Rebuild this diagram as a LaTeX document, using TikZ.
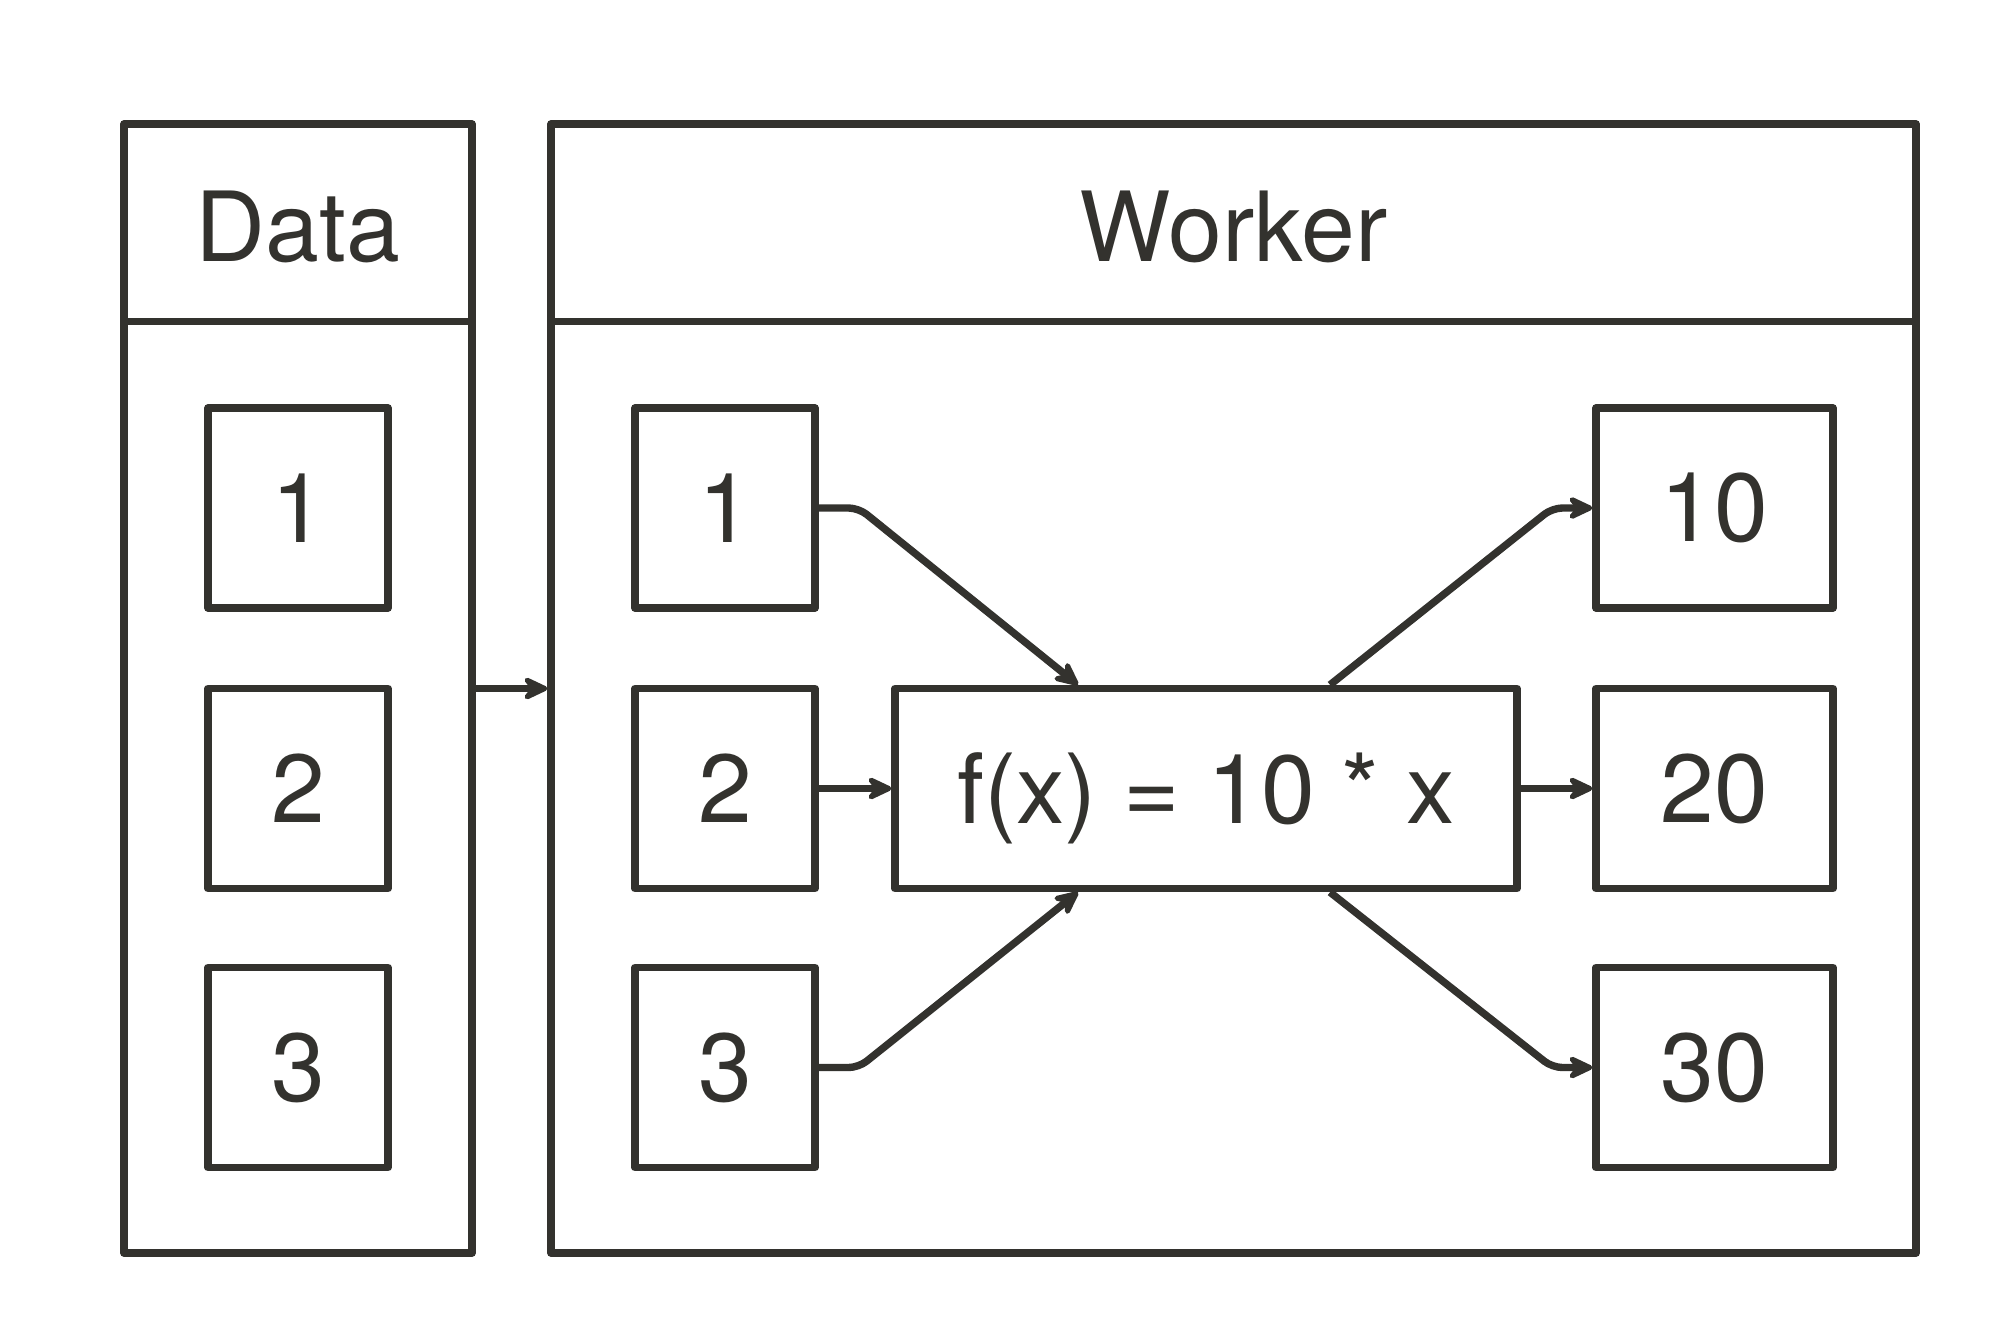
\documentclass[tikz,border=0pt]{standalone}
\usepackage{fontspec}
\setmainfont{TeX Gyre Heros}
\usepackage{xcolor}
\usetikzlibrary{arrows.meta}
\usetikzlibrary{calc}
\definecolor{ink}{HTML}{33322E}

\begin{document}
\begin{tikzpicture}[x=0.25pt, y=-0.25pt, line width=1.85pt, line join=round, color=ink,
    font=\fontsize{24.2}{29}\selectfont,
    lane/.style={draw, inner sep=0pt, minimum height=282.25pt},
    item/.style={draw, inner sep=0pt, minimum width=45pt, minimum height=50pt},
    result/.style={item, minimum width=59.25pt},
    flow/.style={-{Stealth[round, length=8pt, width=7.5pt, inset=3pt]}, rounded corners=2.5pt}]
    \useasboundingbox (0,0) rectangle (2000,1340);

    % lanes
    \node[lane, minimum width=87pt] (data) at (298,688.5) {};
    \node[lane, minimum width=341.25pt] (worker) at (1233.5,688.5) {};
    \draw ($(data.north west)+(0,201)$) -- ($(data.north east)+(0,201)$);
    \draw ($(worker.north west)+(0,201)$) -- ($(worker.north east)+(0,201)$);
    \node (datatitle) at (298,227) {Data};
    \node (workertitle) at (1233.5,227) {Worker};

    % input values
    \node[item] (d1) at (298,508) {1};
    \node[item] (d2) at (298,788.5) {2};
    \node[item] (d3) at (298,1067.5) {3};

    \node[item] (w1) at (725,508) {1};
    \node[item] (w2) at (725,788.5) {2};
    \node[item] (w3) at (725,1067.5) {3};

    % function and results
    \node[item, minimum width=155.5pt, text depth=0pt] (fx) at (1206,788.5) {f(x) = 10 * x};
    \node[result] (r1) at (1714.5,508) {10};
    \node[result] (r2) at (1714.5,788.5) {20};
    \node[result] (r3) at (1714.5,1067.5) {30};

    \draw[flow] (data.east) -- (worker.west);
    \draw[flow] (w1.east) -- ++(40,0) -- ($(fx.north)+(-128,0)$);
    \draw[flow] (w2.east) -- (fx.west);
    \draw[flow] (w3.east) -- ++(40,0) -- ($(fx.south)+(-128,0)$);
    \draw[flow] ($(fx.north)+(124,0)$) -- ($(r1.west)+(-40,0)$) -- (r1.west);
    \draw[flow] (fx.east) -- (r2.west);
    \draw[flow] ($(fx.south)+(124,0)$) -- ($(r3.west)+(-40,0)$) -- (r3.west);
\end{tikzpicture}
\end{document}
